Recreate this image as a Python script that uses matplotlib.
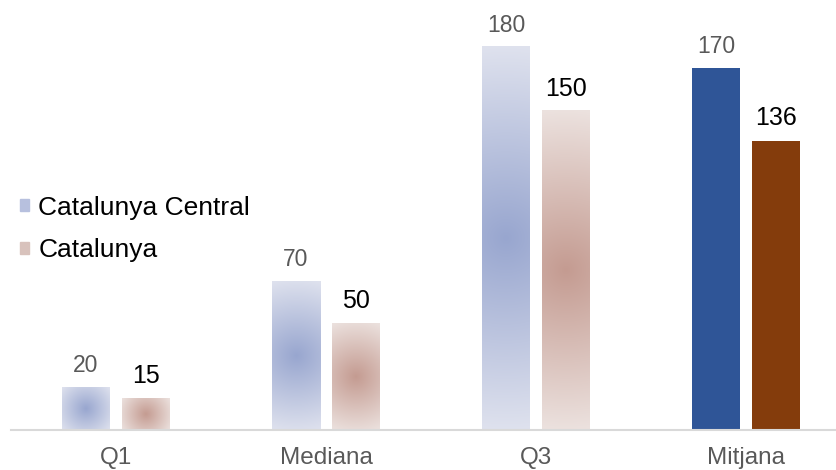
import numpy as np
import matplotlib
matplotlib.use("Agg")
import matplotlib.pyplot as plt
from matplotlib.colors import to_rgb
from matplotlib.patches import Patch

plt.rcParams["font.family"] = ["Liberation Sans", "DejaVu Sans"]

categories = ["Q1", "Mediana", "Q3", "Mitjana"]
central = [20, 70, 180, 170]
catalunya = [15, 50, 150, 136]
series_names = ["Catalunya Central", "Catalunya"]

# gradient (center -> edge) for the quartile bars, solid colour for the mean
GRAD = {
    "central": ("#98a6cf", "#dfe2ee"),
    "catalunya": ("#c49b91", "#ece2df"),
}
SOLID = {"central": "#2f5597", "catalunya": "#843c0c"}
LABEL_COLOR = {"central": "#595959", "catalunya": "#000000"}
LABEL_SIZE = {"central": 16.5, "catalunya": 18}

fig = plt.figure(figsize=(8.37, 4.70), dpi=100)
ax = fig.add_axes([11 / 837, 1 - 430 / 470, 826 / 837, 425.6 / 470])
ax.set_xlim(-0.5, (837 - 116) / 210)
ax.set_ylim(0, 200)

px_per_unit = ax.bbox.height / 200
px_per_x = ax.bbox.width / (ax.get_xlim()[1] - ax.get_xlim()[0])

width = 48 / 210
offset = 30 / 210


def radial(w_px, h_px, c0, c1, n=200):
    c0, c1 = np.array(to_rgb(c0)), np.array(to_rgb(c1))
    ys = np.linspace(-1, 1, n)[:, None] * h_px / 2
    xs = np.linspace(-1, 1, n)[None, :] * w_px / 2
    t = np.clip(np.hypot(xs, ys) / np.hypot(w_px / 2, h_px / 2), 0, 1)
    return c0 + (c1 - c0) * t[..., None]


x = np.arange(len(categories))
for key, vals, sign in [("central", central, -1), ("catalunya", catalunya, 1)]:
    for i, v in enumerate(vals):
        xc = x[i] + sign * offset
        if i < 3:
            img = radial(width * px_per_x, v * px_per_unit, *GRAD[key])
            ax.imshow(img, extent=[xc - width / 2, xc + width / 2, 0, v],
                      aspect="auto", interpolation="bilinear", zorder=2)
        else:
            ax.bar(xc, v, width=width, color=SOLID[key], zorder=2)
        ax.annotate(str(v), (xc, v), xytext=(0, 11), textcoords="offset points",
                    ha="center", va="baseline", fontsize=LABEL_SIZE[key],
                    color=LABEL_COLOR[key])

ax.set_xlim(-0.5, (837 - 116) / 210)
ax.set_ylim(0, 200)
ax.set_xticks(x)
ax.set_xticklabels(categories, fontsize=17.5, color="#595959")
ax.tick_params(axis="x", length=0, pad=12.5)
ax.set_yticks([])
for s in ["top", "right", "left"]:
    ax.spines[s].set_visible(False)
ax.spines["bottom"].set_color("#d9d9d9")
ax.spines["bottom"].set_linewidth(1.5)

handles = [Patch(color="#b7c0de"), Patch(color="#d8c2bc")]
fig.legend(handles, series_names, loc="center left",
           bbox_to_anchor=(20 / 837, 1 - 229 / 470), frameon=False,
           fontsize=19, handlelength=0.35, handleheight=0.35,
           handletextpad=0.35, labelspacing=0.72, borderpad=0, borderaxespad=0)

fig.savefig("out.png", dpi=100)
